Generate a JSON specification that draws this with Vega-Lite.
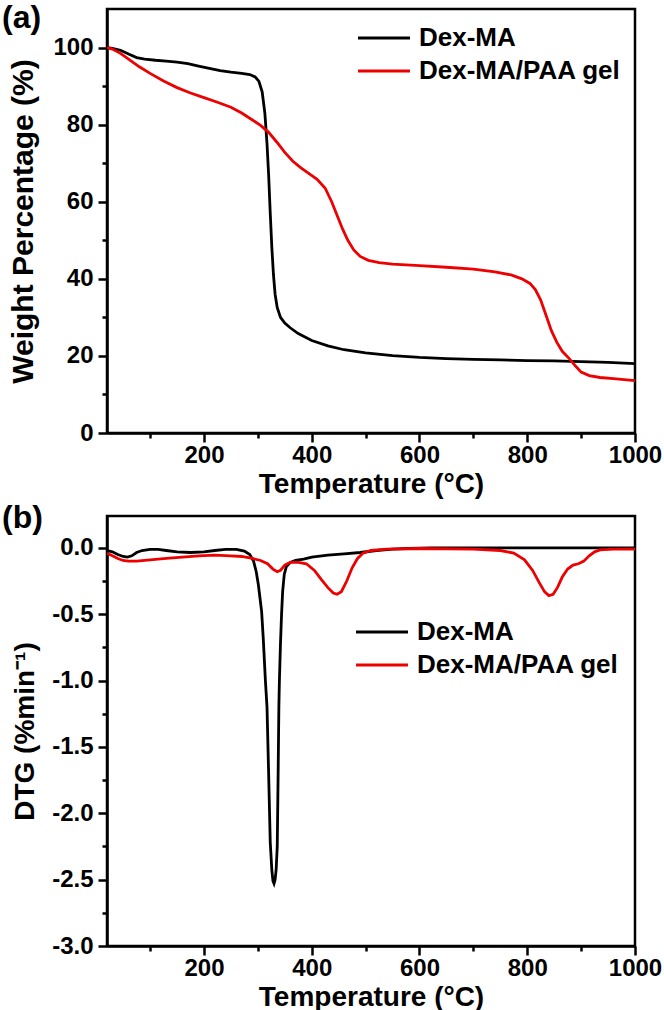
{
  "$schema": "https://vega.github.io/schema/vega-lite/v6.json",
  "padding": 0,
  "background": "white",
  "spacing": 0,
  "config": {
    "view": {"stroke": "black", "strokeWidth": 2.5},
    "font": "Liberation Sans",
    "axis": {
      "domainColor": "black", "domainWidth": 2.5, "tickColor": "black", "tickWidth": 2.5,
      "grid": false, "labelColor": "black", "labelFont": "Liberation Sans", "labelFontWeight": "bold",
      "labelFontSize": 24, "titleFont": "Liberation Sans", "titleFontWeight": "bold",
      "titleFontSize": 28, "titleColor": "black", "labelOverlap": false, "labelFlush": false
    },
    "legend": {
      "orient": "none", "labelFont": "Liberation Sans", "labelFontWeight": "bold", "labelFontSize": 26,
      "labelColor": "black", "symbolType": "M-5,0H5", "symbolSize": 108, "symbolStrokeWidth": 3,
      "labelOffset": 22, "rowPadding": 7, "padding": 0, "labelLimit": 400
    },
    "title": {"font": "Liberation Sans", "fontWeight": "bold", "fontSize": 32, "color": "black"}
  },
  "resolve": {"legend": {"color": "independent"}},
  "datasets": {
    "tga": [
      {"T": 20, "v": 100, "s": "Dex-MA"}, {"T": 30, "v": 99.8, "s": "Dex-MA"}, {"T": 45, "v": 99.3, "s": "Dex-MA"},
      {"T": 60, "v": 98.3, "s": "Dex-MA"}, {"T": 75, "v": 97.4, "s": "Dex-MA"}, {"T": 90, "v": 97.0, "s": "Dex-MA"},
      {"T": 110, "v": 96.7, "s": "Dex-MA"}, {"T": 130, "v": 96.5, "s": "Dex-MA"}, {"T": 150, "v": 96.2, "s": "Dex-MA"},
      {"T": 170, "v": 95.8, "s": "Dex-MA"}, {"T": 190, "v": 95.2, "s": "Dex-MA"}, {"T": 210, "v": 94.6, "s": "Dex-MA"},
      {"T": 230, "v": 94.0, "s": "Dex-MA"}, {"T": 250, "v": 93.6, "s": "Dex-MA"}, {"T": 270, "v": 93.3, "s": "Dex-MA"},
      {"T": 285, "v": 93.0, "s": "Dex-MA"}, {"T": 295, "v": 92.4, "s": "Dex-MA"}, {"T": 302, "v": 91.2, "s": "Dex-MA"},
      {"T": 308, "v": 88.5, "s": "Dex-MA"}, {"T": 313, "v": 83, "s": "Dex-MA"}, {"T": 317, "v": 75, "s": "Dex-MA"},
      {"T": 320, "v": 67, "s": "Dex-MA"}, {"T": 323, "v": 57, "s": "Dex-MA"}, {"T": 326, "v": 48, "s": "Dex-MA"},
      {"T": 329, "v": 41, "s": "Dex-MA"}, {"T": 332, "v": 36, "s": "Dex-MA"}, {"T": 336, "v": 32.5, "s": "Dex-MA"},
      {"T": 342, "v": 30, "s": "Dex-MA"}, {"T": 350, "v": 28.5, "s": "Dex-MA"}, {"T": 360, "v": 27.3, "s": "Dex-MA"},
      {"T": 375, "v": 25.8, "s": "Dex-MA"}, {"T": 400, "v": 24.0, "s": "Dex-MA"}, {"T": 430, "v": 22.6, "s": "Dex-MA"},
      {"T": 460, "v": 21.6, "s": "Dex-MA"}, {"T": 500, "v": 20.8, "s": "Dex-MA"}, {"T": 550, "v": 20.1, "s": "Dex-MA"},
      {"T": 600, "v": 19.6, "s": "Dex-MA"}, {"T": 650, "v": 19.3, "s": "Dex-MA"}, {"T": 700, "v": 19.1, "s": "Dex-MA"},
      {"T": 750, "v": 18.95, "s": "Dex-MA"}, {"T": 800, "v": 18.8, "s": "Dex-MA"}, {"T": 850, "v": 18.7, "s": "Dex-MA"},
      {"T": 900, "v": 18.5, "s": "Dex-MA"}, {"T": 950, "v": 18.3, "s": "Dex-MA"}, {"T": 1000, "v": 18.0, "s": "Dex-MA"},

      {"T": 20, "v": 100, "s": "Dex-MA/PAA gel"}, {"T": 30, "v": 99.6, "s": "Dex-MA/PAA gel"}, {"T": 45, "v": 98.5, "s": "Dex-MA/PAA gel"},
      {"T": 60, "v": 97, "s": "Dex-MA/PAA gel"}, {"T": 80, "v": 95, "s": "Dex-MA/PAA gel"}, {"T": 100, "v": 93.3, "s": "Dex-MA/PAA gel"},
      {"T": 125, "v": 91.3, "s": "Dex-MA/PAA gel"}, {"T": 150, "v": 89.6, "s": "Dex-MA/PAA gel"}, {"T": 175, "v": 88.2, "s": "Dex-MA/PAA gel"},
      {"T": 200, "v": 87.0, "s": "Dex-MA/PAA gel"}, {"T": 225, "v": 85.8, "s": "Dex-MA/PAA gel"}, {"T": 250, "v": 84.5, "s": "Dex-MA/PAA gel"},
      {"T": 270, "v": 83.0, "s": "Dex-MA/PAA gel"}, {"T": 290, "v": 81.2, "s": "Dex-MA/PAA gel"}, {"T": 305, "v": 79.8, "s": "Dex-MA/PAA gel"},
      {"T": 320, "v": 78.0, "s": "Dex-MA/PAA gel"}, {"T": 335, "v": 75.5, "s": "Dex-MA/PAA gel"}, {"T": 350, "v": 72.8, "s": "Dex-MA/PAA gel"},
      {"T": 365, "v": 70.5, "s": "Dex-MA/PAA gel"}, {"T": 380, "v": 68.8, "s": "Dex-MA/PAA gel"}, {"T": 395, "v": 67.3, "s": "Dex-MA/PAA gel"},
      {"T": 410, "v": 65.8, "s": "Dex-MA/PAA gel"}, {"T": 425, "v": 63.5, "s": "Dex-MA/PAA gel"}, {"T": 437, "v": 60, "s": "Dex-MA/PAA gel"},
      {"T": 447, "v": 56.5, "s": "Dex-MA/PAA gel"}, {"T": 457, "v": 53, "s": "Dex-MA/PAA gel"}, {"T": 467, "v": 50, "s": "Dex-MA/PAA gel"},
      {"T": 478, "v": 47.5, "s": "Dex-MA/PAA gel"}, {"T": 490, "v": 45.8, "s": "Dex-MA/PAA gel"}, {"T": 505, "v": 44.8, "s": "Dex-MA/PAA gel"},
      {"T": 525, "v": 44.2, "s": "Dex-MA/PAA gel"}, {"T": 550, "v": 43.8, "s": "Dex-MA/PAA gel"}, {"T": 600, "v": 43.4, "s": "Dex-MA/PAA gel"},
      {"T": 650, "v": 43.0, "s": "Dex-MA/PAA gel"}, {"T": 700, "v": 42.5, "s": "Dex-MA/PAA gel"}, {"T": 740, "v": 41.8, "s": "Dex-MA/PAA gel"},
      {"T": 770, "v": 41.0, "s": "Dex-MA/PAA gel"}, {"T": 790, "v": 40.0, "s": "Dex-MA/PAA gel"}, {"T": 805, "v": 38.8, "s": "Dex-MA/PAA gel"},
      {"T": 815, "v": 37.2, "s": "Dex-MA/PAA gel"}, {"T": 825, "v": 34.5, "s": "Dex-MA/PAA gel"}, {"T": 835, "v": 30.5, "s": "Dex-MA/PAA gel"},
      {"T": 845, "v": 26.5, "s": "Dex-MA/PAA gel"}, {"T": 855, "v": 23.5, "s": "Dex-MA/PAA gel"}, {"T": 865, "v": 21.2, "s": "Dex-MA/PAA gel"},
      {"T": 878, "v": 19.3, "s": "Dex-MA/PAA gel"}, {"T": 890, "v": 17.3, "s": "Dex-MA/PAA gel"}, {"T": 900, "v": 15.8, "s": "Dex-MA/PAA gel"},
      {"T": 915, "v": 14.9, "s": "Dex-MA/PAA gel"}, {"T": 935, "v": 14.4, "s": "Dex-MA/PAA gel"}, {"T": 960, "v": 14.1, "s": "Dex-MA/PAA gel"},
      {"T": 1000, "v": 13.6, "s": "Dex-MA/PAA gel"}
    ],
    "dtg": [
      {"T": 20, "v": -0.02, "s": "Dex-MA"}, {"T": 30, "v": -0.03, "s": "Dex-MA"}, {"T": 40, "v": -0.05, "s": "Dex-MA"},
      {"T": 50, "v": -0.065, "s": "Dex-MA"}, {"T": 58, "v": -0.07, "s": "Dex-MA"}, {"T": 66, "v": -0.06, "s": "Dex-MA"},
      {"T": 75, "v": -0.035, "s": "Dex-MA"}, {"T": 85, "v": -0.02, "s": "Dex-MA"}, {"T": 100, "v": -0.012, "s": "Dex-MA"},
      {"T": 115, "v": -0.012, "s": "Dex-MA"}, {"T": 130, "v": -0.02, "s": "Dex-MA"}, {"T": 150, "v": -0.03, "s": "Dex-MA"},
      {"T": 175, "v": -0.035, "s": "Dex-MA"}, {"T": 200, "v": -0.03, "s": "Dex-MA"}, {"T": 220, "v": -0.02, "s": "Dex-MA"},
      {"T": 240, "v": -0.012, "s": "Dex-MA"}, {"T": 260, "v": -0.012, "s": "Dex-MA"}, {"T": 275, "v": -0.025, "s": "Dex-MA"},
      {"T": 285, "v": -0.05, "s": "Dex-MA"}, {"T": 292, "v": -0.1, "s": "Dex-MA"}, {"T": 297, "v": -0.18, "s": "Dex-MA"},
      {"T": 301, "v": -0.28, "s": "Dex-MA"}, {"T": 304, "v": -0.38, "s": "Dex-MA"}, {"T": 307, "v": -0.48, "s": "Dex-MA"},
      {"T": 310, "v": -0.68, "s": "Dex-MA"}, {"T": 314, "v": -1.0, "s": "Dex-MA"}, {"T": 317, "v": -1.2, "s": "Dex-MA"},
      {"T": 320, "v": -1.7, "s": "Dex-MA"}, {"T": 323, "v": -2.22, "s": "Dex-MA"}, {"T": 326, "v": -2.43, "s": "Dex-MA"},
      {"T": 328, "v": -2.51, "s": "Dex-MA"}, {"T": 330, "v": -2.53, "s": "Dex-MA"}, {"T": 332, "v": -2.5, "s": "Dex-MA"},
      {"T": 334, "v": -2.42, "s": "Dex-MA"}, {"T": 336, "v": -2.25, "s": "Dex-MA"}, {"T": 337.5, "v": -1.75, "s": "Dex-MA"},
      {"T": 339, "v": -1.2, "s": "Dex-MA"}, {"T": 340, "v": -1.0, "s": "Dex-MA"}, {"T": 342, "v": -0.72, "s": "Dex-MA"},
      {"T": 344, "v": -0.5, "s": "Dex-MA"}, {"T": 346, "v": -0.33, "s": "Dex-MA"}, {"T": 349, "v": -0.2, "s": "Dex-MA"},
      {"T": 353, "v": -0.14, "s": "Dex-MA"}, {"T": 360, "v": -0.11, "s": "Dex-MA"}, {"T": 370, "v": -0.095, "s": "Dex-MA"},
      {"T": 385, "v": -0.085, "s": "Dex-MA"}, {"T": 400, "v": -0.07, "s": "Dex-MA"}, {"T": 430, "v": -0.055, "s": "Dex-MA"},
      {"T": 460, "v": -0.045, "s": "Dex-MA"}, {"T": 490, "v": -0.035, "s": "Dex-MA"}, {"T": 520, "v": -0.02, "s": "Dex-MA"},
      {"T": 550, "v": -0.01, "s": "Dex-MA"}, {"T": 580, "v": -0.005, "s": "Dex-MA"}, {"T": 620, "v": 0, "s": "Dex-MA"},
      {"T": 700, "v": 0, "s": "Dex-MA"}, {"T": 800, "v": 0, "s": "Dex-MA"}, {"T": 900, "v": 0, "s": "Dex-MA"},
      {"T": 1000, "v": 0, "s": "Dex-MA"},

      {"T": 20, "v": -0.04, "s": "Dex-MA/PAA gel"}, {"T": 30, "v": -0.06, "s": "Dex-MA/PAA gel"}, {"T": 40, "v": -0.08, "s": "Dex-MA/PAA gel"},
      {"T": 50, "v": -0.095, "s": "Dex-MA/PAA gel"}, {"T": 60, "v": -0.1, "s": "Dex-MA/PAA gel"}, {"T": 75, "v": -0.1, "s": "Dex-MA/PAA gel"},
      {"T": 100, "v": -0.09, "s": "Dex-MA/PAA gel"}, {"T": 130, "v": -0.08, "s": "Dex-MA/PAA gel"}, {"T": 160, "v": -0.07, "s": "Dex-MA/PAA gel"},
      {"T": 190, "v": -0.06, "s": "Dex-MA/PAA gel"}, {"T": 220, "v": -0.055, "s": "Dex-MA/PAA gel"}, {"T": 250, "v": -0.06, "s": "Dex-MA/PAA gel"},
      {"T": 270, "v": -0.065, "s": "Dex-MA/PAA gel"}, {"T": 290, "v": -0.08, "s": "Dex-MA/PAA gel"}, {"T": 305, "v": -0.095, "s": "Dex-MA/PAA gel"},
      {"T": 318, "v": -0.12, "s": "Dex-MA/PAA gel"}, {"T": 328, "v": -0.16, "s": "Dex-MA/PAA gel"}, {"T": 336, "v": -0.18, "s": "Dex-MA/PAA gel"},
      {"T": 342, "v": -0.17, "s": "Dex-MA/PAA gel"}, {"T": 350, "v": -0.13, "s": "Dex-MA/PAA gel"}, {"T": 360, "v": -0.11, "s": "Dex-MA/PAA gel"},
      {"T": 375, "v": -0.11, "s": "Dex-MA/PAA gel"}, {"T": 390, "v": -0.12, "s": "Dex-MA/PAA gel"}, {"T": 405, "v": -0.17, "s": "Dex-MA/PAA gel"},
      {"T": 418, "v": -0.24, "s": "Dex-MA/PAA gel"}, {"T": 430, "v": -0.3, "s": "Dex-MA/PAA gel"}, {"T": 440, "v": -0.34, "s": "Dex-MA/PAA gel"},
      {"T": 447, "v": -0.35, "s": "Dex-MA/PAA gel"}, {"T": 455, "v": -0.33, "s": "Dex-MA/PAA gel"}, {"T": 465, "v": -0.25, "s": "Dex-MA/PAA gel"},
      {"T": 475, "v": -0.15, "s": "Dex-MA/PAA gel"}, {"T": 485, "v": -0.08, "s": "Dex-MA/PAA gel"}, {"T": 495, "v": -0.04, "s": "Dex-MA/PAA gel"},
      {"T": 510, "v": -0.02, "s": "Dex-MA/PAA gel"}, {"T": 540, "v": -0.01, "s": "Dex-MA/PAA gel"}, {"T": 600, "v": -0.005, "s": "Dex-MA/PAA gel"},
      {"T": 700, "v": -0.01, "s": "Dex-MA/PAA gel"}, {"T": 750, "v": -0.02, "s": "Dex-MA/PAA gel"}, {"T": 775, "v": -0.04, "s": "Dex-MA/PAA gel"},
      {"T": 795, "v": -0.09, "s": "Dex-MA/PAA gel"}, {"T": 810, "v": -0.17, "s": "Dex-MA/PAA gel"}, {"T": 822, "v": -0.26, "s": "Dex-MA/PAA gel"},
      {"T": 832, "v": -0.33, "s": "Dex-MA/PAA gel"}, {"T": 840, "v": -0.36, "s": "Dex-MA/PAA gel"}, {"T": 848, "v": -0.35, "s": "Dex-MA/PAA gel"},
      {"T": 856, "v": -0.3, "s": "Dex-MA/PAA gel"}, {"T": 865, "v": -0.22, "s": "Dex-MA/PAA gel"}, {"T": 875, "v": -0.16, "s": "Dex-MA/PAA gel"},
      {"T": 885, "v": -0.13, "s": "Dex-MA/PAA gel"}, {"T": 895, "v": -0.12, "s": "Dex-MA/PAA gel"}, {"T": 905, "v": -0.1, "s": "Dex-MA/PAA gel"},
      {"T": 915, "v": -0.06, "s": "Dex-MA/PAA gel"}, {"T": 925, "v": -0.03, "s": "Dex-MA/PAA gel"}, {"T": 935, "v": -0.015, "s": "Dex-MA/PAA gel"},
      {"T": 960, "v": -0.01, "s": "Dex-MA/PAA gel"}, {"T": 1000, "v": -0.01, "s": "Dex-MA/PAA gel"}
    ]
  },
  "vconcat": [
    {
      "width": 528,
      "height": 424,
      "title": {"text": "(a)", "anchor": "start", "frame": "group", "dx": -105, "dy": 26, "offset": 0},
      "data": {"name": "tga"},
      "mark": {"type": "line", "strokeWidth": 2.8, "clip": true},
      "encoding": {
        "x": {
          "field": "T", "type": "quantitative",
          "scale": {"domain": [20, 1000], "nice": false, "zero": false},
          "axis": {
            "values": [100, 200, 300, 400, 500, 600, 700, 800, 900, 1000],
            "format": "d",
            "labelExpr": "datum.value % 200 == 0 ? datum.label : ''",
            "tickSize": {"condition": {"test": "datum.value % 200 == 0", "value": 9}, "value": 5},
            "labelPadding": 1, "title": "Temperature (°C)", "titlePadding": 3
          }
        },
        "y": {
          "field": "v", "type": "quantitative",
          "scale": {"domain": [0, 110], "nice": false},
          "axis": {
            "values": [0, 10, 20, 30, 40, 50, 60, 70, 80, 90, 100],
            "format": "d",
            "labelExpr": "datum.value % 20 == 0 ? datum.label : ''",
            "tickSize": {"condition": {"test": "datum.value % 20 == 0", "value": 9}, "value": 5},
            "labelPadding": 5, "title": "Weight Percentage (%)", "titleFontSize": 30, "titlePadding": 14
          }
        },
        "color": {
          "field": "s", "type": "nominal",
          "scale": {"domain": ["Dex-MA", "Dex-MA/PAA gel"], "range": ["#000000", "#ee0000"]},
          "legend": {"title": null, "legendX": 264, "legendY": 16}
        }
      }
    },
    {
      "width": 528,
      "height": 430,
      "title": {"text": "(b)", "anchor": "start", "frame": "group", "dx": -105, "dy": 19, "offset": 0},
      "data": {"name": "dtg"},
      "mark": {"type": "line", "strokeWidth": 2.8, "clip": true},
      "encoding": {
        "x": {
          "field": "T", "type": "quantitative",
          "scale": {"domain": [20, 1000], "nice": false, "zero": false},
          "axis": {
            "values": [100, 200, 300, 400, 500, 600, 700, 800, 900, 1000],
            "format": "d",
            "labelExpr": "datum.value % 200 == 0 ? datum.label : ''",
            "tickSize": {"condition": {"test": "datum.value % 200 == 0", "value": 9}, "value": 5},
            "labelPadding": 1, "title": "Temperature (°C)", "titlePadding": 3
          }
        },
        "y": {
          "field": "v", "type": "quantitative",
          "scale": {"domain": [-3.0, 0.24], "nice": false, "zero": false},
          "axis": {
            "values": [-3, -2.75, -2.5, -2.25, -2, -1.75, -1.5, -1.25, -1, -0.75, -0.5, -0.25, 0],
            "labelExpr": "datum.value % 0.5 == 0 ? replace(format(datum.value, '.1f'), '\u2212', '-') : ''",
            "tickSize": {"condition": {"test": "datum.value % 0.5 == 0", "value": 9}, "value": 5},
            "labelPadding": 5, "title": "DTG (%min⁻¹)", "titleFontSize": 28, "titlePadding": 12
          }
        },
        "color": {
          "field": "s", "type": "nominal",
          "scale": {"domain": ["Dex-MA", "Dex-MA/PAA gel"], "range": ["#000000", "#ee0000"]},
          "legend": {"title": null, "legendX": 262, "legendY": 103}
        }
      }
    }
  ]
}
